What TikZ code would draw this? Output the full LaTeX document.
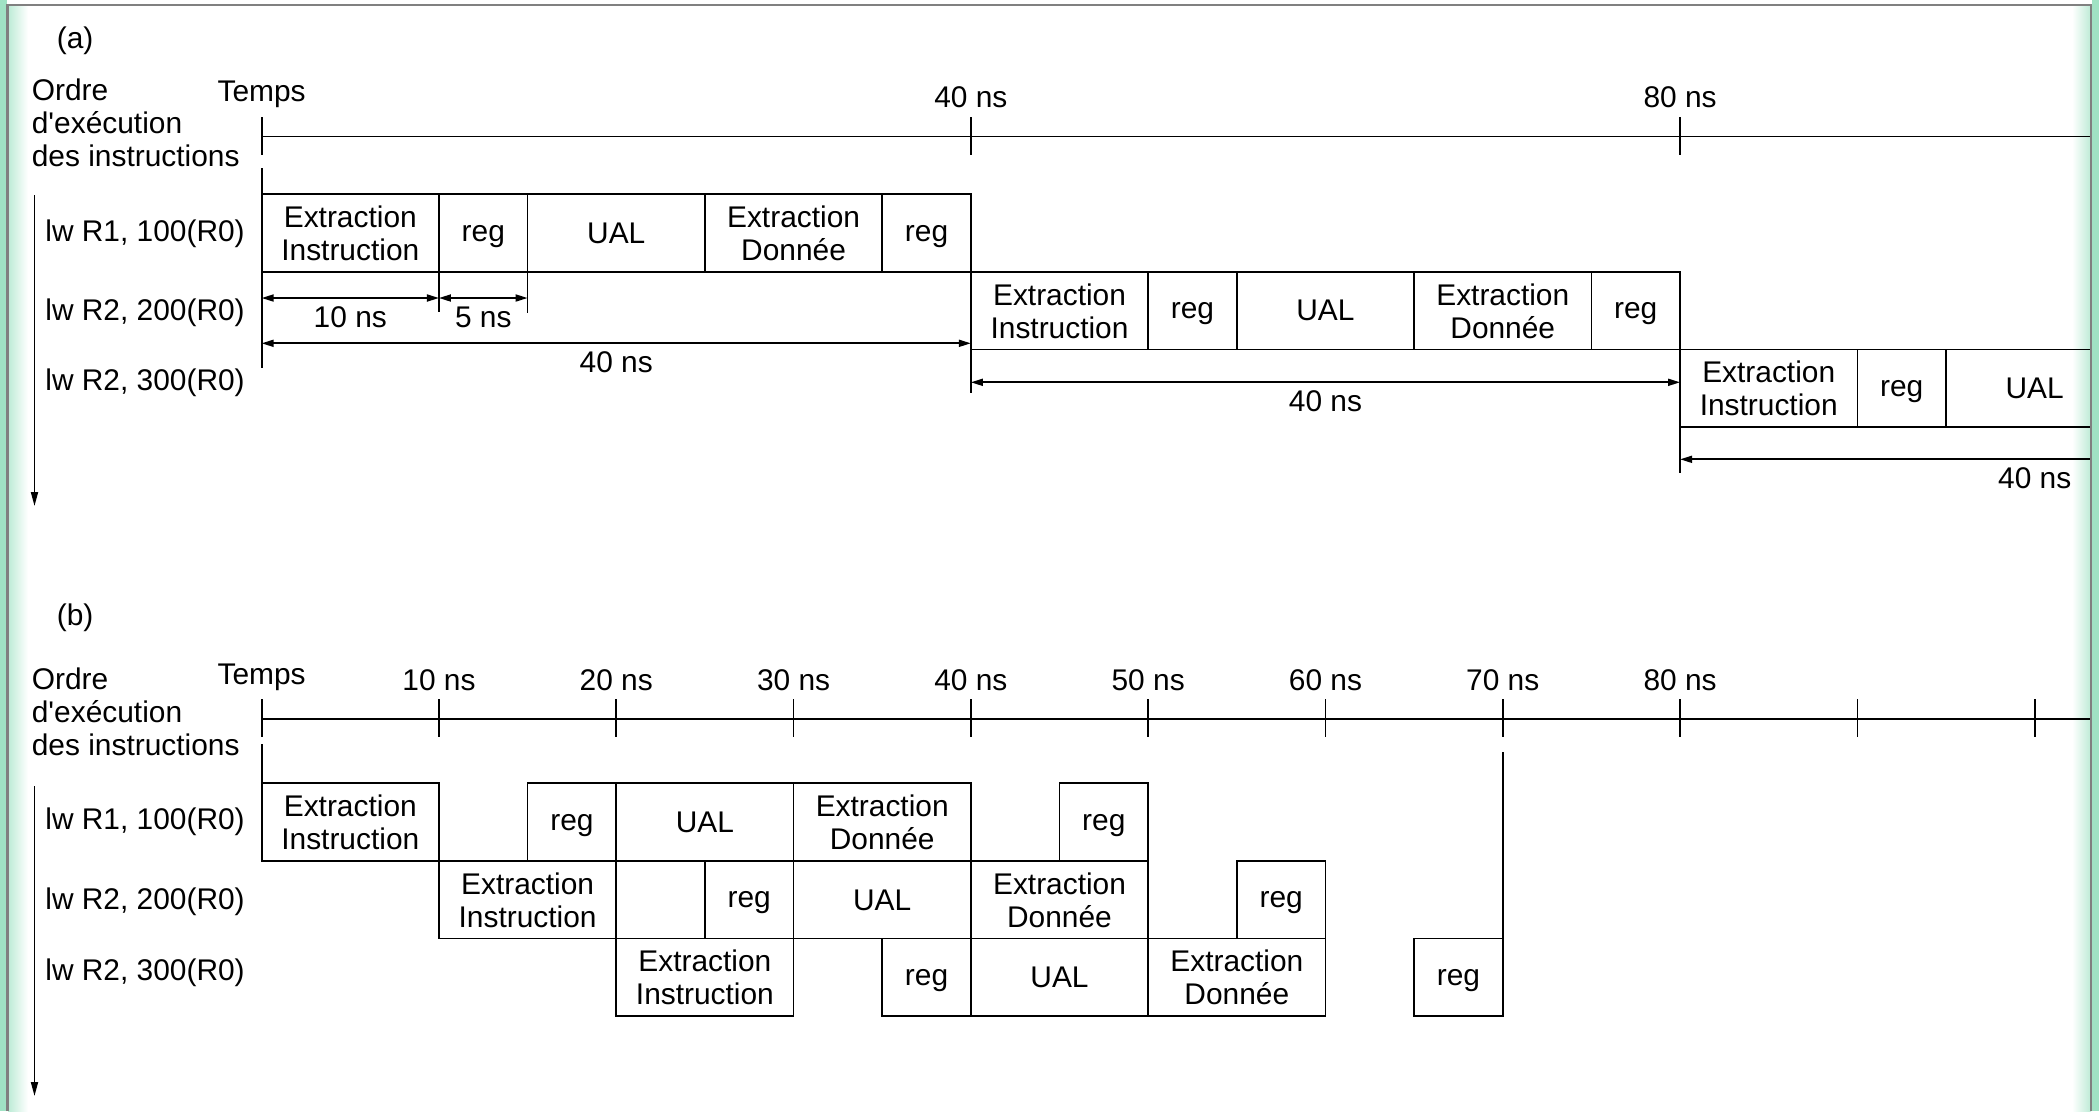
\documentclass[tikz,border=0pt]{standalone}
\usepackage{fontspec}
\setmainfont{Liberation Sans}
\usetikzlibrary{arrows.meta}
\definecolor{mint}{RGB}{160,226,196}

\begin{document}
\begin{tikzpicture}[x=0.01cm, y=-0.01cm, line width=0.5pt,
  font=\fontsize{8.5}{9.4}\selectfont,
  txt/.style={inner sep=0pt, anchor=base},
  dimlbl/.style={inner sep=0pt, anchor=base, yshift=-2.9mm},
  stage/.style={inner sep=0pt, align=center, text depth=0pt},
  dim/.style={{Triangle[length=1.2mm,width=0.7mm]}-{Triangle[length=1.2mm,width=0.7mm]}},
  order/.style={-{Triangle[length=1.4mm,width=0.7mm]}}]

\useasboundingbox (0,0) rectangle (2099,1111);

% green page edge
\fill[mint] (0,0) rectangle (7,1111);
\fill[mint] (2092,0) rectangle (2099,1111);
\shade[left color=mint!70, right color=white] (8,5) rectangle (28,1111);
\shade[left color=white, right color=mint!70] (2072,5) rectangle (2091,1111);

% left column
\node[txt, anchor=base west] (pa) at (56,48) {(a)};
\node[inner sep=0pt, anchor=west, align=left] (orda) at (31,123) {Ordre\\d\textquotesingle exécution\\des instructions};
\node[txt, anchor=base west] (ia1) at (44.5,241) {lw R1, 100(R0)};
\node[txt, anchor=base west] (ia2) at (44.5,320) {lw R2, 200(R0)};
\node[txt, anchor=base west] (ia3) at (44.5,390) {lw R2, 300(R0)};
\draw[order] (34.5,195) -- (34.5,506);

\node[txt, anchor=base west] (pb) at (56,625) {(b)};
\node[inner sep=0pt, anchor=west, align=left] (ordb) at (31,712) {Ordre\\d\textquotesingle exécution\\des instructions};
\node[txt, anchor=base west] (ib1) at (44.5,829) {lw R1, 100(R0)};
\node[txt, anchor=base west] (ib2) at (44.5,909) {lw R2, 200(R0)};
\node[txt, anchor=base west] (ib3) at (44.5,980) {lw R2, 300(R0)};
\draw[order] (34.5,786) -- (34.5,1096);

% time axis: x in ns from here on
\begin{scope}[xshift=2.615cm, x=0.1772cm]
  \clip (-14.3,5) rectangle (103.2,1111);

  % (a) sans pipeline
  \draw (0,136.5) -- (110,136.5);
  \foreach \t in {0,40,80} \draw (\t,117) -- (\t,155);
  \node[txt] (ta) at (0,101.7) {Temps};
  \foreach \t in {40,80} \node[txt] (ta\t) at (\t,107) {\t\ ns};

  \foreach \i/\s/\y in {1/0/233, 2/40/310.7} {
    \foreach \a/\b/\lbl/\nm in {0/10/{Extraction\\Instruction}/ei, 10/15/reg/rg,
        15/25/UAL/ual, 25/35/{Extraction\\Donnée}/ed, 35/40/reg/wb} {
      \draw ({\s+\a},{\y-38.85}) rectangle ({\s+\b},{\y+38.85});
      \node[stage] (\nm-a\i) at ({\s+(\a+\b)/2},\y) {\lbl};
    }
  }
  % third instruction runs off the page
  \foreach \a/\b/\lbl/\nm in {0/10/{Extraction\\Instruction}/ei, 10/15/reg/rg, 15/25/UAL/ual} {
    \draw ({80+\a},349.55) rectangle ({80+\b},427.25);
    \node[stage] (\nm-a3) at ({80+(\a+\b)/2},388.4) {\lbl};
  }

  \draw (0,168) -- (0,368);
  \draw (10,272) -- (10,312);
  \draw (15,272) -- (15,313);
  \draw (40,349) -- (40,393);
  \draw (80,427) -- (80,473);
  \draw[dim] (0,298) -- node[dimlbl] (l10) {10 ns} (10,298);
  \draw[dim] (10,298) -- node[dimlbl] (l5) {5 ns} (15,298);
  \draw[dim] (0,343.3) -- node[dimlbl] (l40a) {40 ns} (40,343.3);
  \draw[dim] (40,382.3) -- node[dimlbl] (l40b) {40 ns} (80,382.3);
  \draw[dim] (80,459.3) -- node[dimlbl] (l40c) {40 ns} (120,459.3);

  % (b) avec pipeline
  \draw (0,719) -- (110,719);
  \foreach \t in {0,10,...,100} \draw (\t,699) -- (\t,737);
  \node[txt] (tb) at (0,684) {Temps};
  \foreach \t in {10,20,...,80} \node[txt] (tb\t) at (\t,690) {\t\ ns};
  \draw (0,744) -- (0,783);
  \draw (70,752) -- (70,938.4);

  \foreach \i/\s/\y in {1/0/822, 2/10/899.7, 3/20/977.4} {
    \foreach \a/\b/\lbl/\nm in {0/10/{Extraction\\Instruction}/ei, 15/20/reg/rg,
        20/30/UAL/ual, 30/40/{Extraction\\Donnée}/ed, 45/50/reg/wb} {
      \draw ({\s+\a},{\y-38.85}) rectangle ({\s+\b},{\y+38.85});
      \node[stage] (\nm-b\i) at ({\s+(\a+\b)/2},\y) {\lbl};
    }
  }
\end{scope}

% frame
\draw[gray, line width=0.8pt] (7.5,1111) -- (7.5,5) -- (2091,5) -- (2091,1111);
\end{tikzpicture}
\end{document}
